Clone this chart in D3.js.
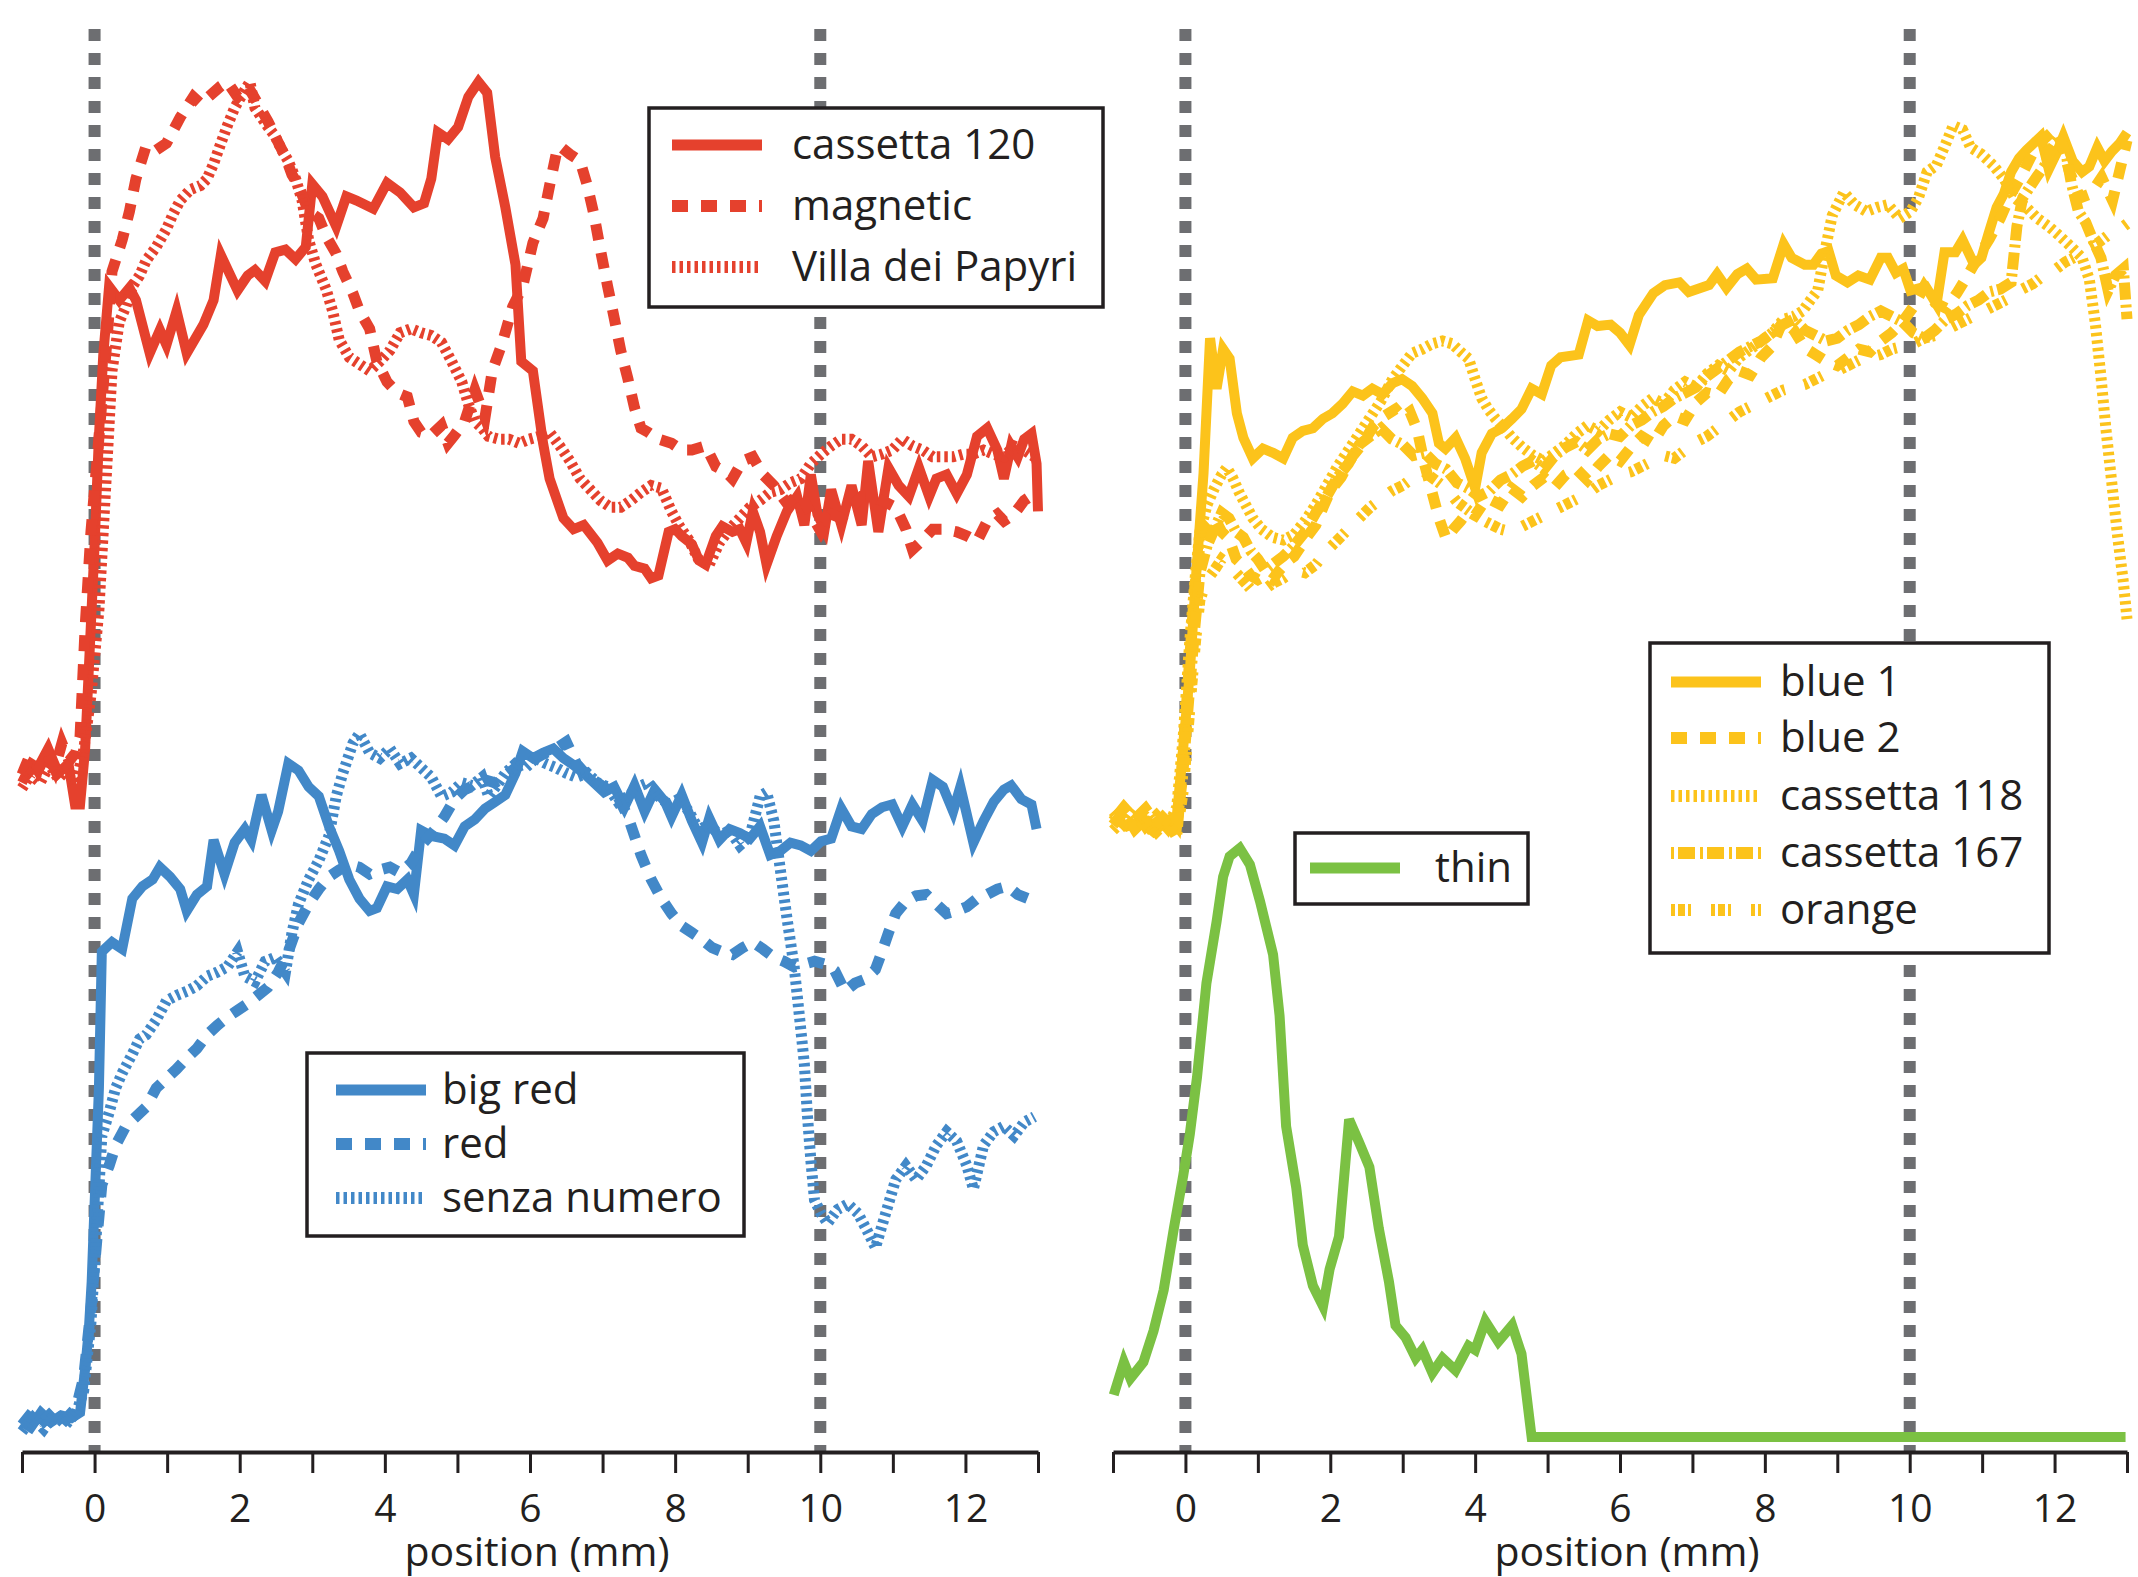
<!DOCTYPE html>
<html>
<head>
<meta charset="utf-8">
<script src="https://cdn.jsdelivr.net/npm/d3@7"></script>
<style>
  body { margin: 0; background: #fff; }
  text { font-family: "Open Sans", sans-serif; fill: #231f20; }
</style>
</head>
<body>
<div id="chart"></div>
<script>
// position (mm) vs. signal (a.u.)
const cassetta120 = [[-1.0,48.6],[-0.87,50.0],[-0.78,49.7],[-0.64,51.1],[-0.5,49.3],[-0.36,50.0],[-0.27,47.0],[-0.2,47.0],[-0.13,51.1],[-0.07,58],[0.0,66],[0.06,74],[0.12,80],[0.20,85.0],[0.34,84.0],[0.48,84.9],[0.57,84.0],[0.76,80.1],[0.90,81.8],[0.99,80.7],[1.13,83.2],[1.27,80.1],[1.50,82.2],[1.64,84.0],[1.74,87.3],[1.97,84.7],[2.11,85.8],[2.21,86.2],[2.35,85.4],[2.49,87.5],[2.63,87.7],[2.77,87.0],[2.91,87.9],[3.00,92.5],[3.14,91.6],[3.33,89.4],[3.47,91.6],[3.61,91.3],[3.84,90.7],[4.03,92.6],[4.21,91.9],[4.40,90.8],[4.54,91.1],[4.64,92.9],[4.73,96.3],[4.87,95.8],[5.01,96.7],[5.15,98.9],[5.29,100.0],[5.41,99.2],[5.52,94.5],[5.66,90.8],[5.80,86.6],[5.88,79.5],[6.04,78.8],[6.18,73.5],[6.27,70.9],[6.46,68.0],[6.60,67.2],[6.74,67.5],[6.93,66.2],[7.07,64.9],[7.21,65.4],[7.35,65.1],[7.44,64.5],[7.58,64.3],[7.67,63.6],[7.77,63.8],[7.91,67.0],[8.00,67.2],[8.09,66.7],[8.23,66.1],[8.33,64.9],[8.42,64.6],[8.56,66.7],[8.65,67.4],[8.79,67.0],[8.89,67.2],[8.98,66.2],[9.07,68.5],[9.17,67.0],[9.26,64.6],[9.40,66.7],[9.54,68.5],[9.68,69.6],[9.78,67.5],[9.87,71.2],[9.96,68.3],[10.06,67.2],[10.15,70.1],[10.29,67.5],[10.43,70.4],[10.57,67.5],[10.66,72.2],[10.80,67.0],[10.94,71.7],[11.08,70.4],[11.22,69.6],[11.36,71.7],[11.50,69.6],[11.60,70.9],[11.74,71.2],[11.88,69.8],[12.02,71.2],[12.16,74.0],[12.30,74.6],[12.44,73.0],[12.53,70.9],[12.63,73.3],[12.72,72.5],[12.81,73.8],[12.91,74.2],[12.98,72.0],[13.0,68.5]];

const magnetic = [[-1.0,49.2],[-0.9,50.5],[-0.78,49.5],[-0.66,50.8],[-0.55,49.6],[-0.45,51.5],[-0.35,50.2],[-0.26,50.8],[-0.2,52],[-0.13,60],[-0.05,67],[0.03,72],[0.10,76.5],[0.17,81],[0.24,86.1],[0.38,88.4],[0.48,90.5],[0.57,92.9],[0.71,95.3],[0.85,95.0],[0.99,95.5],[1.18,97.4],[1.36,98.9],[1.46,98.4],[1.74,99.7],[1.83,100.0],[1.97,98.9],[2.11,99.7],[2.25,98.4],[2.39,97.1],[2.49,96.0],[2.63,94.5],[2.72,93.2],[2.81,92.4],[2.95,90.5],[3.09,90.0],[3.19,88.7],[3.33,87.4],[3.42,86.1],[3.56,84.5],[3.65,83.2],[3.79,81.9],[3.89,79.5],[4.03,78.0],[4.17,77.2],[4.31,76.9],[4.40,75.1],[4.50,74.3],[4.64,74.1],[4.78,74.8],[4.87,73.5],[4.96,74.1],[5.10,75.1],[5.24,77.4],[5.38,75.4],[5.48,78.8],[5.62,80.9],[5.76,83.5],[5.90,85.0],[6.04,88.2],[6.18,90.0],[6.27,92.4],[6.36,94.7],[6.41,95.3],[6.55,94.7],[6.69,94.2],[6.79,92.4],[6.88,90.3],[6.97,87.7],[7.07,85.0],[7.16,82.7],[7.25,80.3],[7.35,78.2],[7.44,76.1],[7.53,74.6],[7.63,74.3],[7.77,73.8],[7.95,73.5],[8.09,73.0],[8.23,73.0],[8.42,73.3],[8.56,71.8],[8.70,71.4],[8.79,70.9],[8.93,72.2],[9.07,72.5],[9.21,71.2],[9.36,70.4],[9.54,69.1],[9.73,69.8],[9.87,68.3],[10.01,67.0],[10.15,68.3],[10.29,68.0],[10.43,68.8],[10.57,69.6],[10.71,69.6],[10.85,69.3],[11.04,68.8],[11.18,67.2],[11.27,65.7],[11.41,66.4],[11.55,67.2],[11.69,67.2],[11.88,67.0],[12.02,66.7],[12.16,66.3],[12.30,67.8],[12.44,68.3],[12.53,67.8],[12.67,68.3],[12.81,69.3],[12.95,69.8]];

const villaDeiPapyri = [[-1.0,48.2],[-0.88,49.2],[-0.75,48.6],[-0.62,49.9],[-0.5,48.9],[-0.38,49.6],[-0.26,48.5],[-0.15,51],[-0.05,55],[0.06,61.3],[0.15,70],[0.24,78.8],[0.34,82.4],[0.43,83.5],[0.52,85.0],[0.62,85.8],[0.71,86.9],[0.85,87.9],[0.99,89.2],[1.08,90.3],[1.18,91.3],[1.32,92.1],[1.46,92.4],[1.55,92.9],[1.64,94.0],[1.74,95.5],[1.83,96.8],[1.93,98.1],[2.07,99.4],[2.14,100.0],[2.21,98.1],[2.30,97.4],[2.39,96.7],[2.49,96.0],[2.58,95.0],[2.67,94.2],[2.77,92.9],[2.86,91.3],[2.95,88.4],[3.05,86.6],[3.19,84.8],[3.28,83.2],[3.37,81.1],[3.51,79.8],[3.65,79.3],[3.79,78.8],[3.93,79.5],[4.07,80.3],[4.21,81.6],[4.36,81.9],[4.50,81.6],[4.64,81.4],[4.78,80.9],[4.92,79.5],[5.06,78.0],[5.15,76.4],[5.24,75.1],[5.34,74.6],[5.43,74.0],[5.57,73.8],[5.71,73.8],[5.85,73.5],[5.99,73.8],[6.13,74.0],[6.27,74.3],[6.41,73.3],[6.55,72.2],[6.69,70.9],[6.83,70.1],[6.97,69.3],[7.11,68.8],[7.25,68.8],[7.39,69.3],[7.53,69.9],[7.67,70.4],[7.81,70.2],[7.95,68.5],[8.05,67.5],[8.19,66.4],[8.33,64.9],[8.47,64.6],[8.61,66.2],[8.75,67.2],[8.89,68.0],[9.03,68.8],[9.17,69.3],[9.31,69.9],[9.45,70.1],[9.59,70.6],[9.73,70.9],[9.87,72.0],[10.01,72.7],[10.15,73.3],[10.29,73.8],[10.43,73.8],[10.57,73.3],[10.71,72.5],[10.85,72.7],[10.99,73.0],[11.13,73.8],[11.27,73.3],[11.41,73.0],[11.55,72.5],[11.69,72.5],[11.83,72.5],[11.97,72.7],[12.11,72.7],[12.25,73.0],[12.39,72.7],[12.53,72.5],[12.67,73.3],[12.81,73.0],[12.95,72.5]];

const bigRed = [[-1.0,1.7],[-0.88,1.3],[-0.74,2.4],[-0.6,1.7],[-0.46,2.2],[-0.32,2.0],[-0.2,2.4],[-0.13,5.6],[-0.08,8.4],[-0.04,12.0],[0.01,19.1],[0.06,26.2],[0.10,36.2],[0.24,36.9],[0.38,36.4],[0.52,40.1],[0.66,41.0],[0.80,41.5],[0.90,42.4],[1.04,41.7],[1.18,40.8],[1.27,39.2],[1.41,40.4],[1.55,41.0],[1.64,44.4],[1.79,41.9],[1.93,44.2],[2.07,45.2],[2.16,44.4],[2.30,47.7],[2.44,45.1],[2.53,46.5],[2.67,50.0],[2.81,49.5],[2.95,48.3],[3.09,47.6],[3.23,45.4],[3.37,43.6],[3.51,41.5],[3.65,40.1],[3.79,39.2],[3.89,39.4],[4.03,41.0],[4.17,40.8],[4.31,41.5],[4.40,40.4],[4.50,45.1],[4.64,44.7],[4.82,44.5],[4.96,44.0],[5.10,45.4],[5.24,45.9],[5.38,46.7],[5.52,47.2],[5.66,47.7],[5.80,49.3],[5.90,50.9],[6.04,50.4],[6.18,50.8],[6.32,51.1],[6.46,50.4],[6.60,49.9],[6.74,49.3],[6.88,48.6],[7.02,47.9],[7.16,48.3],[7.30,46.8],[7.44,48.4],[7.58,46.5],[7.72,48.1],[7.86,47.2],[7.95,46.1],[8.09,47.7],[8.23,45.8],[8.37,44.2],[8.47,46.0],[8.61,44.4],[8.75,45.2],[8.89,44.9],[9.03,44.5],[9.17,45.4],[9.31,43.3],[9.45,43.6],[9.59,44.2],[9.73,44.0],[9.87,43.6],[10.01,44.3],[10.15,44.5],[10.29,46.7],[10.43,45.4],[10.57,45.2],[10.71,46.3],[10.85,46.8],[10.99,47.0],[11.13,45.4],[11.27,47.0],[11.41,45.8],[11.55,48.8],[11.69,48.3],[11.83,46.5],[11.93,48.3],[12.11,44.2],[12.25,45.8],[12.39,47.2],[12.53,48.1],[12.63,48.4],[12.77,47.4],[12.91,47.0],[12.98,45.2]];

const red = [[-1.0,1.5],[-0.85,2.5],[-0.7,1.8],[-0.55,2.6],[-0.4,1.9],[-0.25,2.8],[-0.15,5],[-0.05,10],[0.03,15],[0.10,19.1],[0.20,20.5],[0.29,22.0],[0.43,23.4],[0.57,24.1],[0.71,24.8],[0.85,26.2],[0.99,26.9],[1.13,27.6],[1.27,28.4],[1.41,29.1],[1.55,30.1],[1.69,30.8],[1.83,31.4],[1.97,31.9],[2.11,32.4],[2.25,33.0],[2.39,33.6],[2.53,34.7],[2.67,36.2],[2.81,38.3],[2.95,39.7],[3.09,40.8],[3.23,41.7],[3.37,42.2],[3.51,42.6],[3.65,42.4],[3.79,41.9],[3.93,42.2],[4.07,42.4],[4.21,42.0],[4.36,42.7],[4.50,44.0],[4.68,45.1],[4.82,46.1],[4.96,47.4],[5.10,48.1],[5.24,48.4],[5.38,48.8],[5.52,48.6],[5.66,49.1],[5.80,49.7],[5.94,50.0],[6.08,50.4],[6.22,50.8],[6.36,51.1],[6.50,51.6],[6.64,50.0],[6.79,49.1],[6.93,48.6],[7.07,48.1],[7.21,47.6],[7.35,46.1],[7.44,44.7],[7.53,43.3],[7.67,41.5],[7.81,40.1],[7.95,39.0],[8.09,38.1],[8.23,37.6],[8.37,37.1],[8.51,36.5],[8.65,36.2],[8.79,36.0],[8.93,36.5],[9.07,36.9],[9.21,36.4],[9.36,35.8],[9.50,35.5],[9.64,35.1],[9.78,35.3],[9.92,35.5],[10.06,35.3],[10.20,34.8],[10.34,33.3],[10.48,33.9],[10.62,34.2],[10.76,34.9],[10.85,36.2],[10.94,37.6],[11.04,39.0],[11.18,39.9],[11.32,40.3],[11.46,40.4],[11.60,39.7],[11.74,39.0],[11.88,39.2],[12.02,39.5],[12.16,40.1],[12.30,40.4],[12.44,40.8],[12.58,41.0],[12.72,40.4],[12.86,40.1],[12.98,39.5]];

const senzaNumero = [[-1.0,1.0],[-0.85,2.0],[-0.7,1.2],[-0.55,2.3],[-0.4,1.5],[-0.25,2.4],[-0.15,4],[-0.05,9],[0.03,16],[0.10,22.7],[0.20,24.4],[0.29,26.2],[0.38,27.3],[0.52,28.7],[0.62,29.8],[0.71,30.1],[0.85,31.2],[0.99,32.6],[1.13,33.0],[1.27,33.3],[1.41,33.7],[1.55,34.4],[1.69,34.7],[1.83,35.1],[1.97,36.2],[2.07,34.4],[2.21,34.0],[2.35,35.5],[2.49,35.8],[2.63,34.7],[2.72,37.6],[2.81,39.7],[2.95,41.5],[3.09,42.9],[3.23,44.7],[3.33,47.6],[3.42,49.3],[3.56,51.5],[3.65,52.2],[3.79,50.8],[3.93,50.4],[4.07,51.1],[4.21,50.0],[4.36,50.4],[4.50,49.7],[4.64,49.0],[4.78,47.6],[4.92,47.9],[5.06,48.6],[5.20,48.4],[5.34,49.0],[5.43,47.6],[5.57,48.6],[5.66,49.3],[5.80,50.0],[5.94,49.7],[6.08,50.4],[6.22,50.0],[6.36,49.7],[6.50,49.3],[6.64,49.0],[6.79,49.3],[6.93,48.6],[7.07,48.3],[7.21,47.2],[7.35,47.6],[7.49,48.3],[7.63,48.6],[7.77,47.6],[7.91,47.0],[8.05,47.4],[8.19,46.5],[8.33,45.1],[8.47,45.6],[8.61,44.7],[8.75,45.1],[8.89,44.0],[9.03,44.7],[9.17,47.6],[9.26,47.9],[9.36,45.8],[9.45,42.2],[9.54,38.7],[9.64,35.1],[9.71,31.6],[9.78,28.0],[9.82,24.4],[9.87,20.9],[9.92,18.0],[10.01,17.0],[10.10,16.3],[10.24,17.3],[10.38,17.7],[10.52,17.0],[10.66,15.6],[10.76,14.5],[10.90,17.0],[11.04,19.5],[11.18,20.5],[11.32,19.5],[11.46,20.5],[11.60,22.0],[11.74,23.0],[11.88,22.3],[12.02,20.5],[12.11,18.8],[12.25,22.0],[12.39,23.0],[12.53,23.4],[12.67,22.7],[12.81,23.7],[12.95,24.1]];

const blue1 = [[-1.0,46.1],[-0.81,45.4],[-0.62,45.8],[-0.44,45.0],[-0.26,45.8],[-0.12,46.1],[-0.03,51.2],[0.06,56.7],[0.15,64.0],[0.25,71.3],[0.34,81.2],[0.43,77.5],[0.52,80.4],[0.61,79.7],[0.71,75.7],[0.80,73.9],[0.93,72.4],[1.07,73.1],[1.21,72.8],[1.35,72.4],[1.48,73.9],[1.62,74.4],[1.76,74.6],[1.90,75.3],[2.03,75.7],[2.17,76.4],[2.31,77.3],[2.45,77.0],[2.58,77.5],[2.72,77.1],[2.86,77.9],[2.99,78.2],[3.13,77.7],[3.27,76.8],[3.41,75.7],[3.50,73.5],[3.59,73.1],[3.73,73.9],[3.86,72.4],[4.00,70.2],[4.09,72.8],[4.23,74.2],[4.37,74.6],[4.51,75.3],[4.64,76.0],[4.78,77.5],[4.92,77.1],[5.05,79.2],[5.18,79.8],[5.43,80.0],[5.56,82.5],[5.69,82.1],[5.87,82.2],[6.0,81.6],[6.13,80.7],[6.26,82.9],[6.46,84.5],[6.62,85.1],[6.82,85.3],[6.95,84.6],[7.23,85.1],[7.34,85.9],[7.47,84.9],[7.62,85.9],[7.75,86.3],[7.88,85.5],[8.11,85.6],[8.26,88.1],[8.37,87.1],[8.55,86.6],[8.67,86.6],[8.78,87.4],[8.88,87.6],[8.98,85.8],[9.14,85.3],[9.29,85.8],[9.45,85.5],[9.6,87.1],[9.7,87.1],[9.81,86.0],[9.91,86.3],[10.01,84.7],[10.22,85.0],[10.37,83.7],[10.48,87.5],[10.63,87.5],[10.73,88.4],[10.89,86.6],[10.99,87.1],[11.09,88.9],[11.20,90.8],[11.30,91.8],[11.40,93.4],[11.51,94.4],[11.61,95.0],[11.71,95.5],[11.81,96.0],[11.92,93.6],[12.02,94.7],[12.12,96.0],[12.25,94.2],[12.38,93.4],[12.48,93.8],[12.59,95.2],[12.69,94.2],[12.79,94.9],[12.90,95.5],[13.0,96.3]];

const blue2 = [[-1.0,45.5],[-0.85,46.5],[-0.7,45.2],[-0.55,46.0],[-0.4,45.0],[-0.25,45.8],[-0.12,44.6],[-0.04,50],[0.05,57],[0.13,63],[0.2,66],[0.3,67.5],[0.4,68],[0.5,67],[0.6,66.5],[0.7,65],[0.8,64.5],[0.9,63.8],[1.0,63.5],[1.1,63.8],[1.2,63.5],[1.3,64.2],[1.4,64.8],[1.5,65.2],[1.6,66],[1.7,66.8],[1.8,67.5],[1.9,68.8],[2.0,70],[2.15,71],[2.3,72.5],[2.45,73.5],[2.6,74.8],[2.75,75.5],[2.9,76],[3.0,75.4],[3.1,75.8],[3.2,74.5],[3.3,72],[3.4,70],[3.5,68],[3.6,66.5],[3.7,67.2],[3.8,67.8],[3.9,68.5],[4.0,68.2],[4.1,69],[4.2,69.4],[4.35,69.0],[4.5,70.2],[4.65,69.6],[4.8,70.4],[4.95,71],[5.1,70.3],[5.25,71.2],[5.4,71.6],[5.55,70.8],[5.7,71.8],[5.85,72.6],[6.0,72.2],[6.15,73.2],[6.3,74],[6.45,73.5],[6.6,74.8],[6.75,75.5],[6.9,75.2],[7.05,76.5],[7.2,77.2],[7.35,77],[7.5,78.2],[7.65,78.8],[7.8,78.5],[7.95,79.8],[8.1,80.6],[8.25,82.5],[8.4,81.8],[8.55,80.5],[8.7,80],[8.85,79.5],[9.0,79.2],[9.15,79.8],[9.3,80.4],[9.45,80.2],[9.6,81],[9.75,81.6],[9.9,82.4],[10.05,83.5],[10.2,85],[10.35,83.8],[10.5,83.4],[10.65,84.5],[10.8,85.8],[10.95,87.2],[11.1,88.5],[11.25,90],[11.4,91.8],[11.55,93.2],[11.7,94.8],[11.85,95.8],[12.0,96.5],[12.1,95.5],[12.2,93.5],[12.35,91.5],[12.5,91.8],[12.65,93],[12.8,91.3],[12.9,93.5],[13.0,95.7]];

const cassetta118 = [[-1.0,46.5],[-0.85,45.6],[-0.7,46.6],[-0.55,45.4],[-0.4,46.2],[-0.25,45.3],[-0.12,46.8],[-0.03,52],[0.06,59],[0.14,64],[0.2,67],[0.3,69],[0.4,70.2],[0.5,71.2],[0.57,71.7],[0.65,71],[0.75,69.8],[0.85,68.8],[0.93,68],[1.05,67.2],[1.2,66.6],[1.35,66.4],[1.5,66.8],[1.65,67.8],[1.8,69],[1.95,70.4],[2.1,71.8],[2.25,73],[2.4,74.2],[2.55,75.4],[2.7,76.6],[2.86,78.2],[3.0,79.2],[3.13,80.1],[3.27,80.4],[3.41,80.8],[3.55,81],[3.68,80.8],[3.8,80.2],[3.91,79.7],[4.0,78.2],[4.09,76.8],[4.18,76],[4.28,75.3],[4.4,74.6],[4.51,73.9],[4.65,73.2],[4.8,72.6],[4.95,72.2],[5.1,72.8],[5.25,73.4],[5.4,74.2],[5.55,74.8],[5.7,74.4],[5.85,75.2],[6.0,75.8],[6.15,75.4],[6.3,76.2],[6.45,76.8],[6.6,76.4],[6.75,77.4],[6.9,78],[7.05,77.6],[7.2,78.6],[7.35,79.2],[7.5,78.8],[7.65,79.8],[7.8,80.4],[7.95,81],[8.1,81.6],[8.26,82.6],[8.4,82.8],[8.52,83.2],[8.63,84],[8.73,84.7],[8.83,87.6],[8.93,90.2],[9.09,91.9],[9.24,91.0],[9.4,90.5],[9.55,90.8],[9.7,91.0],[9.86,90.0],[10.01,90.5],[10.12,91.5],[10.24,93.4],[10.37,93.9],[10.5,95.5],[10.6,96.8],[10.73,96.5],[10.84,95.2],[10.99,94.7],[11.15,93.9],[11.3,92.9],[11.45,91.5],[11.61,90.8],[11.76,90.0],[11.92,89.4],[12.07,88.7],[12.23,87.9],[12.38,87.1],[12.48,85.5],[12.56,82.4],[12.64,78.4],[12.71,74.5],[12.79,70.6],[12.87,66.7],[12.95,63.3],[13.0,60.6]];

const cassetta167 = [[-1.0,45.8],[-0.85,46.8],[-0.7,45.9],[-0.55,46.7],[-0.4,45.6],[-0.25,46.4],[-0.12,45.5],[-0.04,49],[0.05,55],[0.13,60],[0.2,64],[0.3,66],[0.4,67.2],[0.5,68.4],[0.6,68],[0.7,67],[0.8,66.6],[0.9,65.6],[1.0,65],[1.1,64.2],[1.2,64.6],[1.35,65.2],[1.5,66],[1.65,67],[1.8,68.4],[1.95,69.6],[2.1,71],[2.25,72],[2.4,73.4],[2.55,74],[2.7,74.6],[2.85,73.8],[3.0,73.4],[3.15,72.6],[3.3,72.8],[3.45,72],[3.6,71.6],[3.75,70.6],[3.9,70.2],[4.05,69.6],[4.2,70],[4.35,70.8],[4.5,71.2],[4.65,71.8],[4.8,72.2],[4.95,71.6],[5.1,72.6],[5.25,73.2],[5.4,73.6],[5.55,73],[5.7,73.8],[5.85,74.2],[6.0,74],[6.15,74.8],[6.3,75.2],[6.45,75.8],[6.6,76.2],[6.75,76.8],[6.9,77.2],[7.05,77.6],[7.2,78.4],[7.35,79],[7.5,79.6],[7.65,80.2],[7.8,80.6],[7.95,81],[8.1,81.6],[8.25,82.2],[8.4,82.6],[8.55,81.8],[8.7,81.4],[8.85,81],[9.0,81.2],[9.15,81.8],[9.3,82.2],[9.45,82.8],[9.6,83.2],[9.75,82.8],[9.9,82.4],[10.05,81.6],[10.2,81.2],[10.35,81.8],[10.5,82.6],[10.65,83],[10.8,83.6],[10.95,84],[11.1,84.6],[11.25,84.8],[11.4,85.3],[11.48,89.4],[11.56,91.5],[11.66,92.3],[11.76,93.1],[11.87,93.9],[11.97,95.2],[12.07,96.0],[12.17,94.4],[12.23,92.6],[12.33,90.5],[12.43,89.7],[12.53,88.4],[12.64,87.1],[12.74,84.7],[12.84,85.8],[12.95,86.3],[13.0,82.6]];

const orange = [[-1.0,45.1],[-0.85,45.9],[-0.7,44.9],[-0.55,45.7],[-0.4,44.6],[-0.25,45.5],[-0.12,44.8],[-0.03,48],[0.06,54],[0.14,59],[0.2,62],[0.3,63.5],[0.4,64.2],[0.5,65],[0.6,64.6],[0.7,64],[0.8,63.4],[0.9,62.8],[1.0,62.6],[1.1,62.8],[1.2,63.2],[1.35,63.6],[1.5,64.2],[1.65,64],[1.8,64.6],[1.95,65.6],[2.1,66.4],[2.25,67.2],[2.4,68],[2.55,68.8],[2.7,69.4],[2.85,70],[3.0,70.4],[3.15,71],[3.3,71.4],[3.45,70.8],[3.6,70.2],[3.75,69.2],[3.9,68.6],[4.05,68],[4.2,67.6],[4.35,67.2],[4.5,67],[4.65,67.4],[4.8,67.8],[4.95,68.2],[5.1,68.6],[5.25,69],[5.4,69.4],[5.55,69.8],[5.7,70.4],[5.85,70.8],[6.0,71.2],[6.15,71.4],[6.3,71.8],[6.45,72.2],[6.6,72.6],[6.75,72.4],[6.9,73],[7.05,73.6],[7.2,74],[7.35,74.6],[7.5,75.2],[7.65,75.8],[7.8,76.2],[7.95,76.6],[8.1,77],[8.25,77.4],[8.4,77.6],[8.55,77.8],[8.7,78.2],[8.85,78.6],[9.0,78.8],[9.15,79.2],[9.3,79.6],[9.45,79.8],[9.6,80],[9.75,80.4],[9.9,80.6],[10.05,80.8],[10.2,81.2],[10.35,81.4],[10.5,81.8],[10.65,82.2],[10.8,82.6],[10.95,83],[11.1,83.4],[11.25,83.8],[11.4,84.2],[11.55,84.8],[11.7,85.2],[11.85,85.8],[12.0,86.2],[12.15,86.8],[12.3,87.2],[12.45,87.8],[12.6,88.2],[12.75,88.8],[12.9,89.2],[13.0,89.6]];

const thin = [[-0.99,3.7],[-0.85,6.1],[-0.76,4.9],[-0.58,6.1],[-0.44,8.4],[-0.30,11.4],[-0.16,15.9],[-0.03,19.8],[0.06,22.8],[0.16,27.0],[0.29,33.9],[0.43,38.4],[0.52,41.7],[0.61,43.2],[0.75,43.8],[0.89,42.6],[1.03,39.9],[1.21,36.0],[1.30,31.5],[1.39,23.4],[1.53,18.9],[1.62,14.7],[1.76,11.7],[1.90,10.2],[1.99,12.9],[2.12,15.3],[2.26,23.9],[2.40,22.2],[2.54,20.4],[2.67,15.9],[2.81,12.0],[2.90,8.8],[3.04,7.9],[3.18,6.4],[3.27,7.0],[3.41,5.3],[3.55,6.4],[3.73,5.5],[3.91,7.3],[4.00,7.0],[4.14,9.1],[4.32,7.6],[4.51,8.8],[4.64,6.7],[4.78,0.6],[12.98,0.6]];

const xTicks = d3.range(-1, 14);
const xLabels = [0, 2, 4, 6, 8, 10, 12];
const markerLines = [0, 10];

const redSeries = ["cassetta 120", "magnetic", "Villa dei Papyri"];
const blueSeries = ["big red", "red", "senza numero"];
const yellowSeries = ["blue 1", "blue 2", "cassetta 118", "cassetta 167", "orange"];
const greenSeries = ["thin"];

const W = 2138, H = 1577;
const ink = "#231f20";
const colors = { red: "#e5412d", blue: "#4288c8", yellow: "#fcc31b", green: "#7bc143", gray: "#6d6e71" };
const styles = {
  solid:   { w: 10, dash: null },
  dashed:  { w: 11, dash: "16,13" },
  dotted:  { w: 11, dash: "3.5,4" },
  dashdot: { w: 11, dash: "3,4,17,5" },
  gapped:  { w: 11, dash: "4,3,7,3,3,20" }
};

const svg = d3.select("#chart").append("svg").attr("width", W).attr("height", H);

const y = d3.scaleLinear().domain([0, 100]).range([1445.3, 81.95]);
const xLeft = d3.scaleLinear().domain([-1, 13]).range([22, 1038]);
const xRight = d3.scaleLinear().domain([-1, 13]).range([1113, 2127]);
const axisY = 1452;

function panel(x, series, legendBox) {
  const g = svg.append("g");

  // dashed reference lines at 0 and 10 mm
  g.selectAll(".mark").data(markerLines).enter().append("line")
    .attr("x1", d => x(d)).attr("x2", d => x(d))
    .attr("y1", 29).attr("y2", axisY)
    .attr("stroke", colors.gray).attr("stroke-width", 12)
    .attr("stroke-dasharray", "12,12");

  const line = d3.line().x(d => x(d[0])).y(d => y(d[1]));
  series.forEach(s => {
    const st = styles[s.style];
    g.append("path").datum(s.data)
      .attr("d", line)
      .attr("fill", "none")
      .attr("stroke", s.color)
      .attr("stroke-width", st.w)
      .attr("stroke-dasharray", st.dash)
      .attr("stroke-linejoin", "miter");
  });

  const axis = d3.axisBottom(x)
    .tickValues(xTicks)
    .tickSize(21)
    .tickSizeOuter(0)
    .tickPadding(21)
    .tickFormat(d => xLabels.includes(d) ? d : "");
  const ag = g.append("g").attr("transform", "translate(0," + axisY + ")").call(axis);
  ag.select(".domain").attr("stroke", ink).attr("stroke-width", 4);
  ag.selectAll(".tick line").attr("stroke", ink).attr("stroke-width", 3);
  ag.selectAll(".tick text").attr("font-size", 39).attr("font-family", "Open Sans").attr("fill", ink);

  const mid = (x.range()[0] + x.range()[1]) / 2 + 7;
  g.append("text").attr("x", mid).attr("y", 1566)
    .attr("text-anchor", "middle").attr("font-size", 41)
    .text("position (mm)");

  legendBox.forEach(lb => legend(g, lb));
}

function legend(g, lb) {
  const lg = g.append("g");
  lg.append("rect")
    .attr("x", lb.x0).attr("y", lb.y0)
    .attr("width", lb.x1 - lb.x0).attr("height", lb.y1 - lb.y0)
    .attr("fill", "#fff").attr("stroke", ink).attr("stroke-width", 3.5);
  lb.items.forEach((it, i) => {
    const ry = lb.rows[i];
    const st = styles[it.style];
    lg.append("line")
      .attr("x1", lb.lx0).attr("x2", lb.lx0 + 90)
      .attr("y1", ry).attr("y2", ry)
      .attr("stroke", it.color).attr("stroke-width", st.w + 1)
      .attr("stroke-dasharray", st.dash);
    lg.append("text").attr("x", lb.tx).attr("y", ry + 14)
      .attr("font-size", 42).text(it.label);
  });
}

const leftSeries = [
  { label: redSeries[0], data: cassetta120, color: colors.red, style: "solid" },
  { label: redSeries[1], data: magnetic, color: colors.red, style: "dashed" },
  { label: redSeries[2], data: villaDeiPapyri, color: colors.red, style: "dotted" },
  { label: blueSeries[0], data: bigRed, color: colors.blue, style: "solid" },
  { label: blueSeries[1], data: red, color: colors.blue, style: "dashed" },
  { label: blueSeries[2], data: senzaNumero, color: colors.blue, style: "dotted" }
];
const rightSeries = [
  { label: yellowSeries[0], data: blue1, color: colors.yellow, style: "solid" },
  { label: yellowSeries[1], data: blue2, color: colors.yellow, style: "dashed" },
  { label: yellowSeries[2], data: cassetta118, color: colors.yellow, style: "dotted" },
  { label: yellowSeries[3], data: cassetta167, color: colors.yellow, style: "dashdot" },
  { label: yellowSeries[4], data: orange, color: colors.yellow, style: "gapped" },
  { label: greenSeries[0], data: thin, color: colors.green, style: "solid" }
];

panel(xLeft, leftSeries, [
  { x0: 649, y0: 108, x1: 1103, y1: 307, lx0: 672, tx: 792, rows: [145, 206, 267], items: leftSeries.slice(0, 3) },
  { x0: 307, y0: 1053, x1: 744, y1: 1236, lx0: 336, tx: 442, rows: [1090, 1144, 1198], items: leftSeries.slice(3, 6) }
]);
panel(xRight, rightSeries, [
  { x0: 1650, y0: 643, x1: 2049, y1: 953, lx0: 1671, tx: 1780, rows: [682, 738, 796, 853, 910], items: rightSeries.slice(0, 5) },
  { x0: 1295, y0: 833, x1: 1528, y1: 904, lx0: 1310, tx: 1435, rows: [868], items: rightSeries.slice(5) }
]);
</script>
</body>
</html>
